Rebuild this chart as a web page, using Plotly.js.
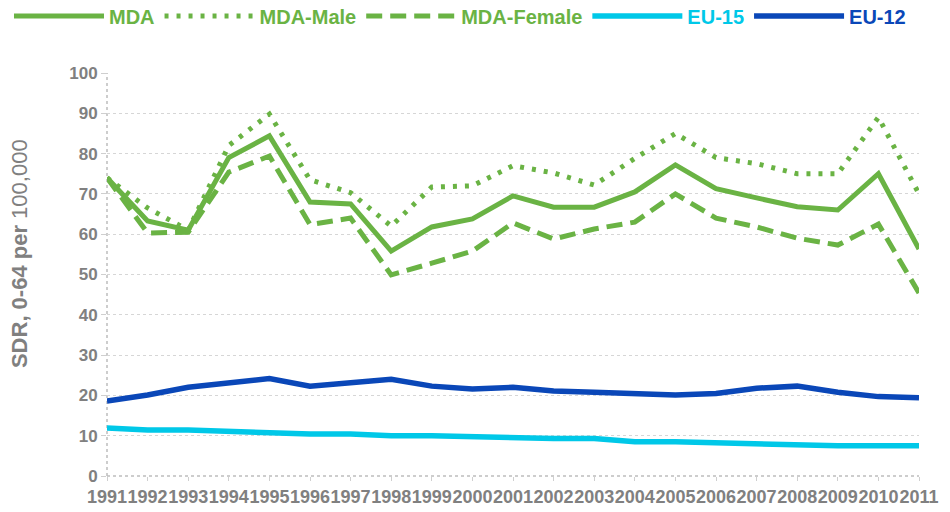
<!DOCTYPE html>
<html>
<head>
<meta charset="utf-8">
<script src="https://cdn.plot.ly/plotly-3.0.1.min.js"></script>
<style>html,body{margin:0;padding:0;background:#fff;}#chart{width:950px;height:512px;}</style>
</head>
<body>
<div id="chart"></div>
<script>
const years = [1991,1992,1993,1994,1995,1996,1997,1998,1999,2000,2001,2002,2003,2004,2005,2006,2007,2008,2009,2010,2011];
const yearLabels = years.map(String);
const seriesNames = ["MDA", "MDA-Male", "MDA-Female", "EU-15", "EU-12"];
const mda       = [74.0,63.3,61.0,79.0,84.4,68.0,67.5,55.8,61.8,63.8,69.5,66.7,66.7,70.5,77.2,71.3,69.0,66.8,66.0,75.0,56.3];
const mdaMale   = [74.0,66.5,61.0,82.0,89.8,73.5,70.3,62.0,71.7,72.0,77.0,75.2,72.2,78.8,85.0,79.0,77.5,75.0,75.0,89.0,70.0];
const mdaFemale = [74.0,60.3,60.5,75.4,79.4,62.4,64.0,49.9,52.8,55.8,62.8,58.8,61.3,63.0,70.0,64.0,61.8,59.0,57.3,62.5,45.4];
const eu15      = [11.9,11.4,11.4,11.0,10.7,10.4,10.4,10.0,10.0,9.7,9.7,9.3,9.3,8.5,8.5,8.2,8.2,7.8,7.5,7.5,7.5];
const eu12      = [18.6,20.1,22.0,23.1,24.2,22.3,23.3,24.0,22.3,21.6,22.0,21.1,20.8,20.5,20.1,20.5,21.8,22.3,20.8,19.7,19.4];
const yTicks = [0,10,20,30,40,50,60,70,80,90,100];
const yTitleMain = "SDR, 0-64 per ";
const yTitleUnit = "100,000";

const green = "#6AB344", cyan = "#00C8E8", navy = "#0A47B8";
const colors = [green, green, green, cyan, navy];
const dashes = ["solid", "4px,8px", "16px,8px", "solid", "solid"];
const widths = [5, 5, 5, 5.5, 5.5];
const values = [mda, mdaMale, mdaFemale, eu15, eu12];

const traces = values.map((v, i) => ({
  type: "scatter", mode: "lines", x: years, y: v,
  name: "<span style='color:" + colors[i] + "'>" + seriesNames[i] + "</span>",
  line: {color: colors[i], width: widths[i], dash: dashes[i]},
  hoverinfo: "x+y"
}));

const layout = {
  width: 950, height: 512,
  margin: {l: 107, r: 31, t: 73, b: 36, autoexpand: false},
  paper_bgcolor: "#fff", plot_bgcolor: "#fff",
  font: {family: "Liberation Sans, Arial, sans-serif", color: "#7f7f7f"},
  showlegend: true,
  legend: {
    orientation: "h", x: -0.1207, xref: "paper", xanchor: "left", y: 1.19, yanchor: "top", yref: "paper",
    font: {size: 20, weight: "bold"}, itemwidth: 90, traceorder: "normal"
  },
  xaxis: {
    range: [1991, 2011], tickmode: "array", tickvals: years, ticktext: yearLabels,
    tickangle: 0, showgrid: false, zeroline: false, showline: false,
    ticks: "outside", ticklen: 4, tickcolor: "#cfcfcf",
    tickfont: {size: 18, weight: "bold", color: "#808080"}
  },
  yaxis: {
    range: [0, 100], tickmode: "array", tickvals: yTicks,
    showgrid: true, gridcolor: "#d6d6d6", griddash: "dot", gridwidth: 1,
    zeroline: false, showline: false,
    ticks: "outside", ticklen: 5, tickcolor: "#cfcfcf",
    tickfont: {size: 17, weight: "bold", color: "#808080"}
  },
  annotations: [{
    xref: "paper", yref: "paper", x: -0.107, y: 0.551, xanchor: "center", yanchor: "middle",
    textangle: -90, showarrow: false,
    text: "<b>" + yTitleMain + "</b>" + yTitleUnit,
    font: {size: 22, color: "#808080"}
  }],
  shapes: [
    {type: "line", xref: "paper", yref: "paper", x0: 0, x1: 0, y0: 0, y1: 1, line: {color: "#bdbdbd", width: 1.5, dash: "dot"}, layer: "below"},
    {type: "line", xref: "paper", yref: "paper", x0: 0, x1: 1, y0: 0, y1: 0, line: {color: "#bdbdbd", width: 1.5, dash: "dot"}, layer: "below"}
  ]
};

Plotly.newPlot("chart", traces, layout, {displayModeBar: false, staticPlot: true});
</script>
</body>
</html>
